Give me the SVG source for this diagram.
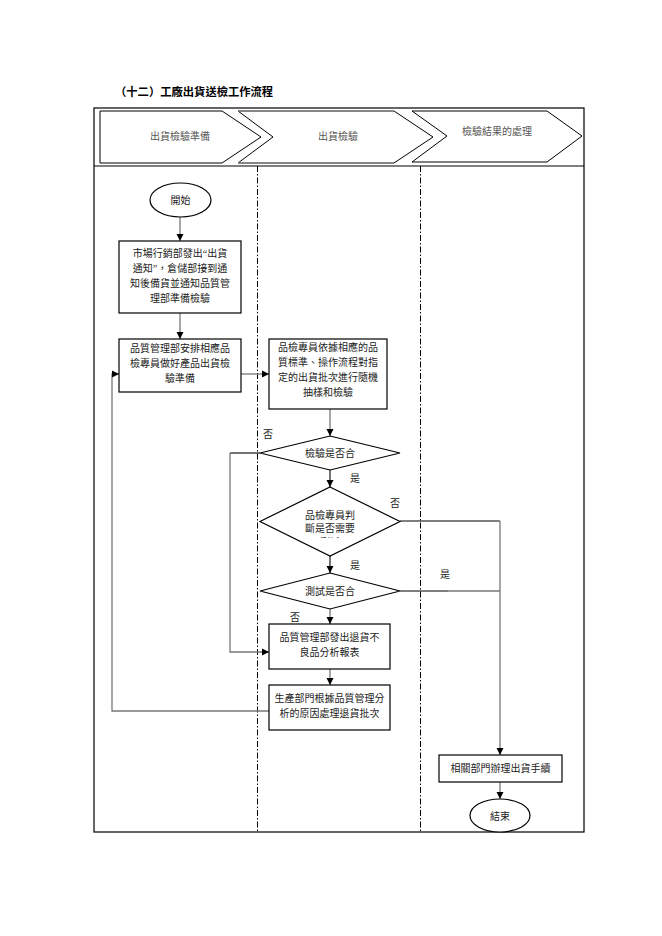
<svg xmlns="http://www.w3.org/2000/svg" width="662" height="936" viewBox="0 0 662 936">
<style>
text{font-family:"Liberation Serif","Noto Sans CJK TC",serif;font-size:10px;fill:#222;text-anchor:middle}
.title{font-size:11.3px;font-weight:bold;fill:#000;text-anchor:start}
.hdr{fill:#555}
.box{fill:#fff;stroke:#000;stroke-width:1.2}
.lane{stroke:#000;stroke-width:1;stroke-dasharray:6 2 1.5 2;fill:none}
.con{fill:none;stroke:#777;stroke-width:1.3}
.conb{fill:none;stroke:#000;stroke-width:1.1}
</style>
<defs>
<marker id="ah" markerUnits="userSpaceOnUse" markerWidth="8" markerHeight="8" refX="7" refY="4" orient="auto">
<path d="M0,0.5 L7,4 L0,7.5 Z" fill="#000"/>
</marker>
<clipPath id="cut"><rect x="280" y="530" width="100" height="8"/></clipPath>
</defs>
<rect width="662" height="936" fill="#fff"/>
<text class="title" x="115" y="96">（十二）工廠出貨送檢工作流程</text>

<g id="frame">
<rect x="94" y="108" width="490" height="724" fill="none" stroke="#000" stroke-width="1.2"/>
<line x1="94" y1="166" x2="584" y2="166" stroke="#000" stroke-width="1.2"/>
<line class="lane" x1="257.5" y1="166" x2="257.5" y2="832"/>
<line class="lane" x1="420.5" y1="166" x2="420.5" y2="832"/>
</g>

<g id="lane1">
<polygon points="100,111 222,111 261,137 222,163 100,163" fill="#fff" stroke="#000" stroke-width="1"/>
<text class="hdr" x="180" y="140">出貨檢驗準備</text>
</g>
<g id="lane2">
<polygon points="238,111 394,111 433,137 394,163 238,163 273,137" fill="#fff" stroke="#000" stroke-width="1"/>
<line x1="238" y1="111" x2="394" y2="111" stroke="#888" stroke-width="1.6"/>
<line x1="238" y1="163" x2="394" y2="163" stroke="#888" stroke-width="1.6"/>
<text class="hdr" x="338" y="140">出貨檢驗</text>
</g>
<g id="lane3">
<polygon points="412,111 547,111 582,136 547,162 412,162 447,136" fill="#fff" stroke="#000" stroke-width="1"/>
<text class="hdr" x="497" y="135">檢驗結果的處理</text>
</g>

<g id="connectors">
<line class="con" x1="180" y1="217" x2="180" y2="241" marker-end="url(#ah)"/>
<line class="con" x1="180" y1="313" x2="180" y2="339" marker-end="url(#ah)"/>
<line class="con" x1="241" y1="374" x2="269" y2="374" marker-end="url(#ah)"/>
<line class="con" x1="330" y1="409" x2="330" y2="436" marker-end="url(#ah)"/>
<polyline class="conb" points="260,453 230,453"/>
<polyline class="con" points="230,453 230,652 269,652" marker-end="url(#ah)"/>
<line class="conb" x1="330" y1="470" x2="330" y2="487" marker-end="url(#ah)"/>
<polyline class="conb" points="400,521 500,521"/>
<polyline class="con" points="500,521 500,755" marker-end="url(#ah)"/>
<line class="conb" x1="330" y1="556" x2="330" y2="573" marker-end="url(#ah)"/>
<polyline class="conb" points="400,591 448,591"/>
<polyline class="con" points="448,591 500,591"/>
<line class="con" x1="330" y1="609" x2="330" y2="624" marker-end="url(#ah)"/>
<line class="con" x1="330" y1="669" x2="330" y2="685" marker-end="url(#ah)"/>
<polyline class="con" points="269,711 112,711 112,374 119,374" marker-end="url(#ah)"/>
<line class="con" x1="500" y1="782" x2="500" y2="799" marker-end="url(#ah)"/>
<text x="268" y="438">否</text>
<text x="355" y="482">是</text>
<text x="395" y="507">否</text>
<text x="355" y="569">是</text>
<text x="445" y="578">是</text>
<text x="295" y="621">否</text>
</g>

<g id="start">
<ellipse class="box" cx="180.5" cy="200" rx="30.5" ry="17"/>
<text x="180.5" y="204">開始</text>
</g>
<g id="n1">
<rect class="box" x="119" y="241" width="122" height="72"/>
<text x="180" y="257">市場行銷部發出“出貨</text>
<text x="180" y="272">通知”，倉儲部接到通</text>
<text x="180" y="287">知後備貨並通知品質管</text>
<text x="180" y="302">理部準備檢驗</text>
</g>
<g id="n2">
<rect class="box" x="119" y="339" width="122" height="53"/>
<text x="180" y="352">品質管理部安排相應品</text>
<text x="180" y="367">檢專員做好產品出貨檢</text>
<text x="180" y="382">驗準備</text>
</g>
<g id="n3">
<rect class="box" x="269" y="339" width="118" height="70"/>
<text x="328" y="351">品檢專員依據相應的品</text>
<text x="328" y="366">質標準、操作流程對指</text>
<text x="328" y="381">定的出貨批次進行隨機</text>
<text x="328" y="395.5">抽樣和檢驗</text>
</g>
<g id="d1">
<polygon class="box" points="330,436 400,453 330,470 260,453"/>
<text x="330" y="457">檢驗是否合</text>
</g>
<g id="d2">
<polygon class="box" points="330,487 400,521.5 330,556 260,521.5"/>
<text x="330" y="519">品檢專員判</text>
<text x="330" y="532">斷是否需要</text>
<text x="330" y="546" clip-path="url(#cut)">測試</text>
</g>
<g id="d3">
<polygon class="box" points="330,573 400,591 330,609 260,591"/>
<text x="330" y="595">測試是否合</text>
</g>
<g id="n4">
<rect class="box" x="269" y="624" width="121" height="45"/>
<text x="329.5" y="641">品質管理部發出退貨不</text>
<text x="329.5" y="656">良品分析報表</text>
</g>
<g id="n5">
<rect class="box" x="269" y="685" width="121" height="45"/>
<text x="329.5" y="702">生產部門根據品質管理分</text>
<text x="329.5" y="717">析的原因處理退貨批次</text>
</g>
<g id="n6">
<rect class="box" x="439" y="755" width="123" height="27"/>
<text x="500.5" y="772">相關部門辦理出貨手續</text>
</g>
<g id="end">
<ellipse class="box" cx="500" cy="815.5" rx="30" ry="16.5"/>
<text x="500" y="819.5">結束</text>
</g>
</svg>
